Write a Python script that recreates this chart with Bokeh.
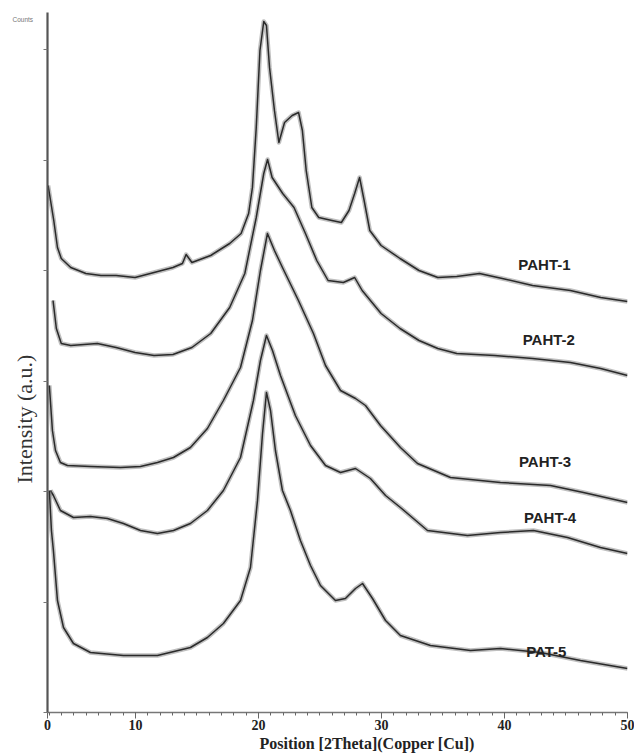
from bokeh.plotting import figure
from bokeh.models import FixedTicker, Label, Range1d, Title
from bokeh.embed import file_html
from bokeh.resources import INLINE

# ---- data (2theta in degrees, intensity in arbitrary units, offset traces) ----
paht1_x = [2.9, 3.36, 3.66, 3.97, 4.74, 5.97, 7.2, 8.43, 9.97, 11.51, 13.05, 13.82, 14.12, 14.59,
           16.12, 17.66, 18.59, 19.2, 19.51, 19.82, 20.12, 20.43, 20.65, 20.9, 21.3, 21.66, 22.12,
           22.74, 23.26, 23.57, 23.88, 24.34, 24.9, 25.97, 26.74, 27.36, 27.82, 28.22, 28.59, 29.05,
           29.97, 31.51, 33.05, 34.58, 36.12, 37.97, 39.82, 42.28, 45.36, 47.82, 50.0]
paht1_y = [527, 492, 465, 454, 445, 439, 437, 437, 435, 440, 445, 449, 458, 450,
           457, 469, 479, 499, 525, 585, 662, 691, 687, 645, 602, 570, 590,
           597, 600, 582, 542, 505, 495, 492, 490, 502, 519, 535, 512, 482,
           467, 454, 442, 435, 436, 439, 434, 427, 422, 415, 411]

paht2_x = [3.3, 3.57, 3.97, 4.74, 6.9, 8.43, 9.97, 11.51, 13.05, 14.59, 16.12, 17.66, 18.89, 19.82,
           20.43, 20.74, 21.11, 21.97, 22.89, 23.82, 24.74, 25.66, 26.9, 27.82, 28.43, 29.97, 31.51,
           33.05, 34.58, 36.12, 39.2, 42.28, 45.36, 47.82, 50.0]
paht2_y = [412, 384, 369, 367, 369, 365, 360, 357, 358, 365, 379, 405, 439, 495,
           539, 553, 535, 519, 505, 479, 452, 432, 430, 435, 422, 399, 384,
           372, 364, 359, 357, 354, 350, 344, 337]

paht3_x = [3.0, 3.25, 3.5, 3.9, 4.47, 6.34, 8.78, 10.41, 11.79, 13.09, 14.47, 15.85, 17.15, 18.54,
           19.51, 20.16, 20.73, 21.3, 21.95, 23.25, 24.47, 25.45, 26.67, 27.89, 28.7, 29.92, 31.54,
           32.93, 35.61, 39.67, 43.74, 46.42, 50.0]
paht3_y = [327, 282, 262, 250, 247, 246, 245, 246, 250, 255, 265, 284, 312, 345,
           392, 442, 479, 462, 445, 412, 379, 347, 322, 314, 307, 287, 265,
           249, 235, 230, 227, 220, 210]

paht4_x = [3.09, 3.33, 3.9, 4.96, 6.34, 7.72, 9.02, 10.41, 11.79, 13.09, 14.47, 15.85, 17.15, 18.54,
           19.59, 20.16, 20.65, 21.14, 21.79, 23.0, 24.23, 25.45, 26.67, 27.89, 29.1, 30.33, 31.54,
           33.74, 36.99, 39.67, 42.36, 45.12, 47.8, 50.0]
paht4_y = [222, 217, 202, 195, 196, 194, 189, 182, 179, 182, 189, 202, 222, 255,
           312, 352, 377, 362, 337, 297, 267, 247, 240, 244, 234, 217, 205,
           182, 177, 180, 182, 175, 165, 159]

pat5_x = [3.0, 3.17, 3.33, 3.66, 4.15, 4.96, 6.34, 9.02, 11.79, 14.47, 15.85, 17.15, 18.54, 19.35,
          19.92, 20.33, 20.65, 20.98, 21.38, 21.95, 22.6, 23.41, 24.23, 25.04, 26.26, 27.07, 27.89,
          28.46, 29.27, 30.33, 31.54, 33.98, 37.24, 39.67, 42.93, 46.18, 50.0]
pat5_y = [222, 182, 162, 112, 85, 69, 60, 57, 57, 65, 75, 89, 112, 145,
          212, 279, 320, 302, 262, 222, 202, 172, 147, 127, 112, 114, 124,
          129, 114, 92, 77, 67, 62, 64, 60, 52, 44]

series_names = ["PAHT-1", "PAHT-2", "PAHT-3", "PAHT-4", "PAT-5"]
label_x = [43.25, 43.6, 43.3, 43.7, 43.4]
label_y = [448, 373, 251, 195, 61]

x_ticks = [2.85, 10, 20, 30, 40, 50]
x_tick_labels = ["0", "10", "20", "30", "40", "50"]
y_ticks = [0, 110, 221, 331, 442, 552, 663]

W, H = 634, 753
p = figure(width=W, height=H, output_backend="svg", toolbar_location=None,
           x_range=Range1d(2.85, 50), y_range=Range1d(0, 700),
           min_border_left=47, min_border_right=7, min_border_top=12, min_border_bottom=41)
p.outline_line_color = None
p.xgrid.visible = False
p.ygrid.visible = False
p.background_fill_color = "white"
p.border_fill_color = "white"

all_x = [paht1_x, paht2_x, paht3_x, paht4_x, pat5_x]
all_y = [paht1_y, paht2_y, paht3_y, paht4_y, pat5_y]
for xs, ys in zip(all_x, all_y):
    p.line(xs, ys, line_color="#707070", line_width=4.5, line_alpha=0.45, line_join="round")
    p.line(xs, ys, line_color="#2a2a2a", line_width=1.5, line_join="round")

for name, lx, ly in zip(series_names, label_x, label_y):
    p.add_layout(Label(x=lx, y=ly, text=name, text_align="center", text_baseline="middle",
                       text_font="Liberation Sans", text_font_style="bold",
                       text_font_size="15px", text_color="#222222"))

# x axis
xa = p.xaxis[0]
xa.ticker = FixedTicker(ticks=x_ticks, minor_ticks=list(range(3, 51)))
xa.major_label_overrides = {t: s for t, s in zip(x_ticks, x_tick_labels)}
xa.major_label_text_font = "Liberation Serif"
xa.major_label_text_font_style = "bold"
xa.major_label_text_font_size = "14px"
xa.major_label_text_color = "#222222"
xa.major_label_standoff = 1
xa.axis_line_color = "#777777"
xa.axis_line_width = 1.5
xa.major_tick_line_color = "#666666"
xa.minor_tick_line_color = "#666666"
xa.major_tick_in = 0
xa.major_tick_out = 6
xa.minor_tick_in = 0
xa.minor_tick_out = 3

# y axis (ticks only)
ya = p.yaxis[0]
ya.ticker = FixedTicker(ticks=y_ticks, minor_ticks=[])
ya.major_label_text_font_size = "0px"
ya.major_label_text_color = None
ya.major_label_standoff = 0
ya.axis_line_color = "#555555"
ya.axis_line_width = 2.2
ya.major_tick_line_color = "#777777"
ya.major_tick_in = 0
ya.major_tick_out = 4
ya.minor_tick_line_color = None

# axis titles as side panels (not clipped by the plot frame)
p.add_layout(Title(text="Intensity (a.u.)", align="left", offset=229, standoff=13,
                   text_font="Liberation Serif", text_font_style="normal",
                   text_font_size="22px", text_color="#333333"), "left")
p.add_layout(Title(text="Position [2Theta](Copper [Cu])", align="left", offset=212, standoff=0,
                   text_font="Liberation Serif", text_font_style="bold",
                   text_font_size="16px", text_color="#222222"), "below")
p.add_layout(Title(text="Counts", align="left", offset=-35, standoff=-21,
                   text_font="Liberation Sans", text_font_style="normal",
                   text_font_size="6.5px", text_color="#777777"), "above")

open("out.html", "w").write(file_html(p, INLINE))
